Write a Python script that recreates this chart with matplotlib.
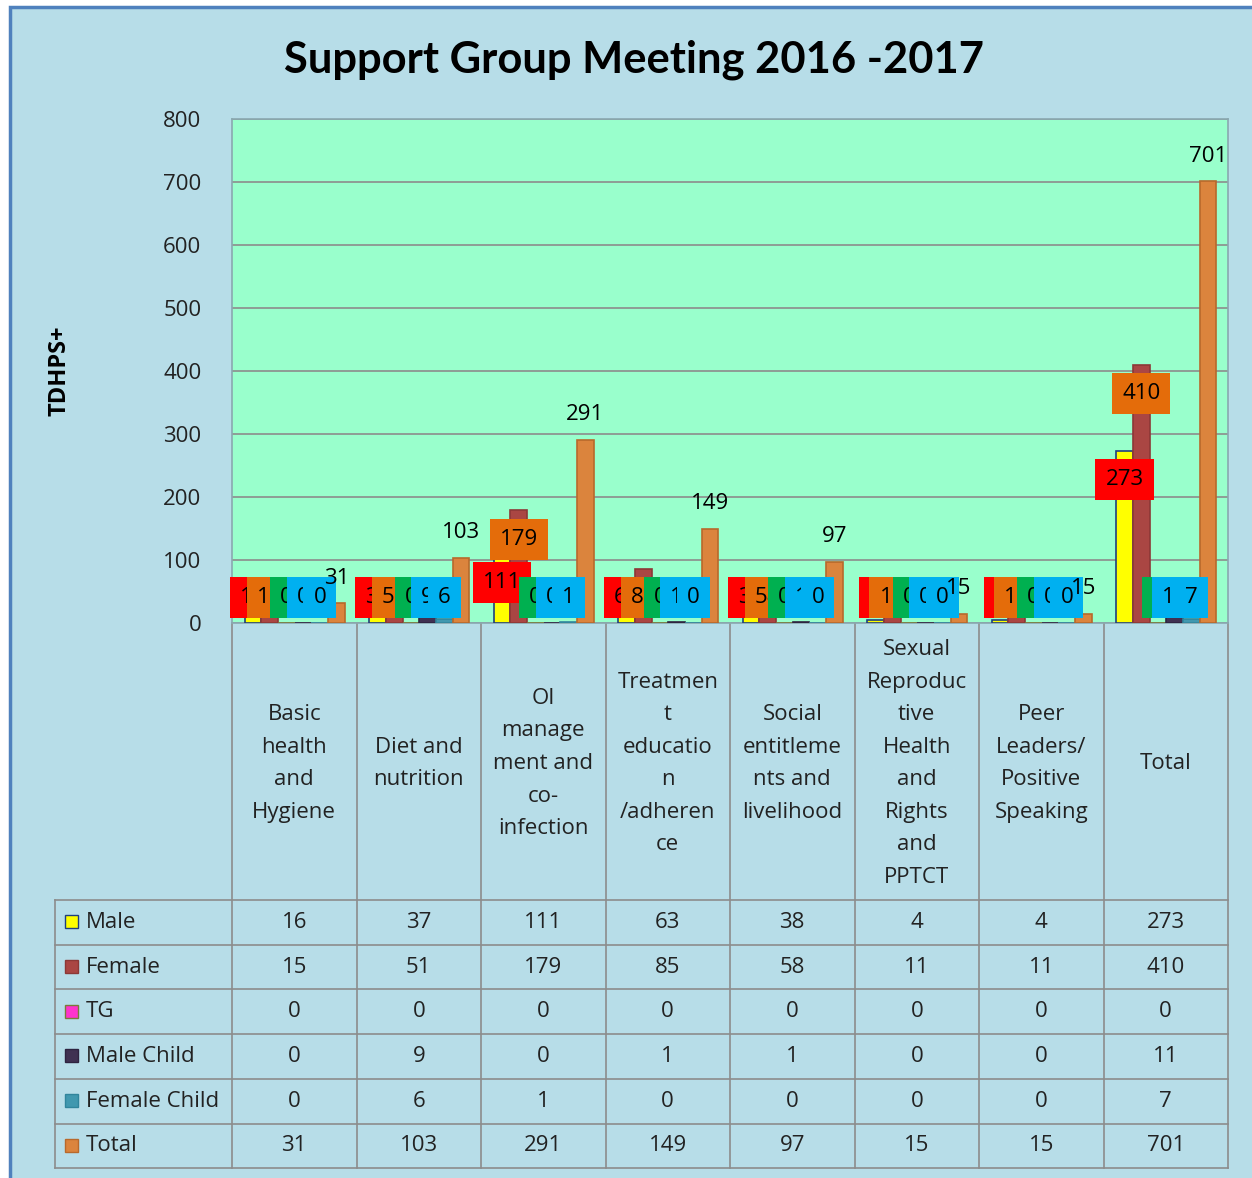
import matplotlib
matplotlib.use("Agg")
import matplotlib.pyplot as plt
from matplotlib.patches import Rectangle
import numpy as np

plt.rcParams['font.family'] = ['Open Sans', 'DejaVu Sans']

# data
categories = ["Basic\nhealth\nand\nHygiene", "Diet and\nnutrition",
              "OI\nmanage\nment and\nco-\ninfection",
              "Treatmen\nt\neducatio\nn\n/adheren\nce",
              "Social\nentitleme\nnts and\nlivelihood",
              "Sexual\nReproduc\ntive\nHealth\nand\nRights\nand\nPPTCT",
              "Peer\nLeaders/\nPositive\nSpeaking", "Total"]
series_names = ["Male", "Female", "TG", "Male Child", "Female Child", "Total"]
male = [16, 37, 111, 63, 38, 4, 4, 273]
female = [15, 51, 179, 85, 58, 11, 11, 410]
tg = [0, 0, 0, 0, 0, 0, 0, 0]
male_child = [0, 9, 0, 1, 1, 0, 0, 11]
female_child = [0, 6, 1, 0, 0, 0, 0, 7]
total = [31, 103, 291, 149, 97, 15, 15, 701]
values = [male, female, tg, male_child, female_child, total]

bar_colors = ["#ffff00", "#aa4643", "#ff33cc", "#403152", "#4198af", "#db843d"]
edge_colors = ["#1f3f7f", "#8c3836", "#7a7a3a", "#2e2340", "#31859c", "#b8692c"]
label_bg = ["#ff0000", "#e46c0a", "#00b050", "#00b0f0", "#00b0f0", None]

W, H = 1252, 1178
fig = plt.figure(figsize=(W / 100, H / 100), dpi=100)
fig.patch.set_facecolor("white")

# background panel with border
bg = fig.add_axes([0, 0, 1, 1], zorder=-5)
bg.set_xlim(0, W)
bg.set_ylim(H, 0)
bg.axis("off")
bg.add_patch(Rectangle((10, 7), W, H, facecolor="#b7dde8",
                       edgecolor="#4f81bd", linewidth=2.5))

# main plot area
px_l, px_r, px_t, px_b = 232, 1228, 119, 623
ax = fig.add_axes([px_l / W, 1 - px_b / H, (px_r - px_l) / W, (px_b - px_t) / H])
ax.set_facecolor("#99ffcc")
n = len(categories)
x = np.arange(n)
bw = 0.134
offsets = (np.arange(6) - 2.5) * bw + 0.004
for i, vals in enumerate(values):
    ax.bar(x + offsets[i], vals, width=bw, color=bar_colors[i],
           edgecolor=edge_colors[i], linewidth=1.2, zorder=3)

ax.set_xlim(-0.5, n - 0.5)
ax.set_ylim(0, 800)
ax.set_yticks(range(0, 801, 100))
ax.tick_params(axis="y", length=0, labelsize=16, pad=22, colors="#222222")
ax.set_xticks([])
ax.grid(axis="y", color="#8c8c8c", linewidth=1.2, zorder=0)
for s in ax.spines.values():
    s.set_color("#8aa8b0")
    s.set_linewidth(1.2)
ax.set_ylabel("TDHPS+", fontsize=17, fontweight="bold", labelpad=66)

# data labels
for i, vals in enumerate(values):
    for j, v in enumerate(vals):
        xc = x[j] + offsets[i]
        if label_bg[i] is None:
            ax.text(xc, v + 40, str(v), ha="center", va="center",
                    fontsize=16, zorder=6, clip_on=False)
        else:
            yl = max(v - 46, 41)
            ax.text(xc, yl, str(v), ha="center", va="center", fontsize=16,
                    zorder=5,
                    bbox=dict(boxstyle="square,pad=0.45", facecolor=label_bg[i],
                              edgecolor="none"))

fig.text(0.506, 1 - 60 / H, "Support Group Meeting 2016 -2017", ha="center",
         va="center", fontsize=31.3, fontweight="bold", family="Lato")

# table under the plot
tab = fig.add_axes([0, 0, 1, 1], zorder=-1)
tab.set_xlim(0, W)
tab.set_ylim(H, 0)
tab.axis("off")
gc = "#8c8c8c"
col_w = (px_r - px_l) / n
row_top, row_h = 900, 44.7
left_x = 55
n_rows = len(series_names)
bottom_y = row_top + n_rows * row_h
# vertical lines
for k in range(n + 1):
    xx = px_l + k * col_w
    tab.plot([xx, xx], [px_b, bottom_y], color=gc, lw=1.2)
tab.plot([left_x, left_x], [row_top, bottom_y], color=gc, lw=1.2)
# horizontal lines
for r in range(n_rows + 1):
    yy = row_top + r * row_h
    tab.plot([left_x, px_r], [yy, yy], color=gc, lw=1.2)

for k, cat in enumerate(categories):
    tab.text(px_l + (k + 0.5) * col_w, (px_b + row_top) / 2 + 2, cat, ha="center",
             va="center", fontsize=16, linespacing=1.72, color="#222222")

for r, name in enumerate(series_names):
    yc = row_top + (r + 0.5) * row_h
    tab.add_patch(Rectangle((65, yc - 7), 13, 13, facecolor=bar_colors[r],
                            edgecolor=edge_colors[r], lw=1))
    tab.text(86, yc, name, ha="left", va="center", fontsize=16, color="#222222")
    for k in range(n):
        tab.text(px_l + (k + 0.5) * col_w, yc, str(values[r][k]), ha="center",
                 va="center", fontsize=16, color="#222222")

fig.savefig("out.png", dpi=100)
